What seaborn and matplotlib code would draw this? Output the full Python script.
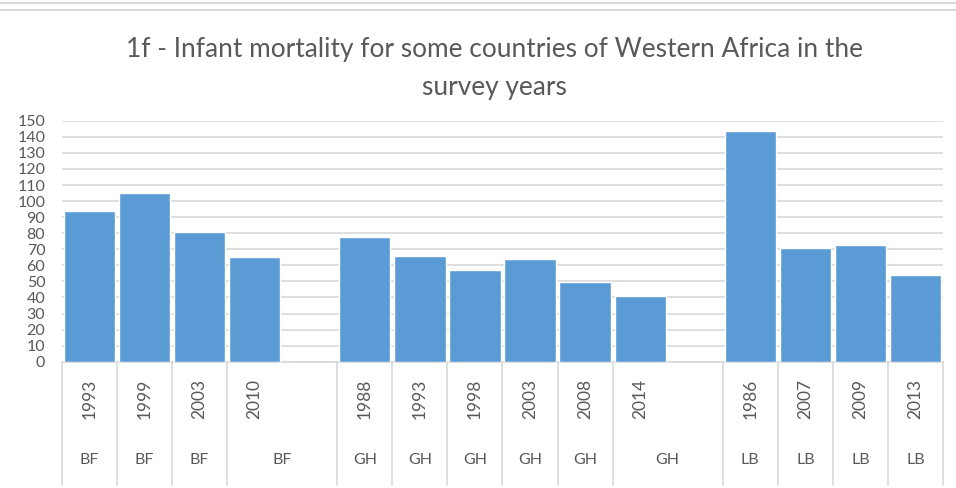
import pandas as pd
import seaborn as sns
import matplotlib.pyplot as plt
from matplotlib.lines import Line2D

# survey rows
countries = ["BF", "BF", "BF", "BF",
             "GH", "GH", "GH", "GH", "GH", "GH",
             "LB", "LB", "LB", "LB"]
years = [1993, 1999, 2003, 2010,
         1988, 1993, 1998, 2003, 2008, 2014,
         1986, 2007, 2009, 2013]
mortality = [94, 105, 81, 65,
             77.5, 66, 57, 64, 49.5, 41,
             143.5, 70.5, 72.5, 54]
yticks = list(range(0, 151, 10))
title_lines = ["1f - Infant mortality for some countries of Western Africa in the",
               "survey years"]

blue = "#5B9BD5"
grey_txt = "#595959"
grey_line = "#D9D9D9"

sns.set_theme(style="white")
plt.rcParams["font.family"] = ["Lato", "DejaVu Sans"]

df = pd.DataFrame({"country": countries, "year": years, "mortality": mortality})
df["slot"] = df["country"] + " " + df["year"].astype(str)

# excel leaves one empty category between countries; its outer label cell
# is empty so the previous country label stretches over it
order, year_lab, segs = [], [], []
prev = None
for c, y, s in zip(df["country"], df["year"], df["slot"]):
    if prev is not None and c != prev:
        order.append("gap " + prev)
        year_lab.append("")
        segs[-1][1] += 1
    order.append(s)
    year_lab.append(str(y))
    segs.append([len(order) - 1, len(order), c])
    prev = c

fig = plt.figure(figsize=(9.56, 4.88), dpi=100)
ax = fig.add_axes([62 / 956, 126.3 / 488, 881 / 956, 240.9 / 488])

sns.barplot(data=df, x="slot", y="mortality", order=order, color=blue,
            width=0.93, saturation=1, errorbar=None, ax=ax, zorder=3)

ax.set_ylim(0, 150)
ax.set_xlim(-0.5, len(order) - 0.5)
ax.set_yticks(yticks)
ax.tick_params(axis="y", length=0, pad=12, labelsize=11.5, labelcolor=grey_txt)
ax.set_xticks([])
ax.set_xlabel("")
ax.set_ylabel("")
ax.grid(axis="y", color=grey_line, linewidth=1.2, zorder=0)
for side in ["left", "right", "top"]:
    ax.spines[side].set_visible(False)
ax.spines["bottom"].set_color(grey_line)
ax.spines["bottom"].set_linewidth(1.2)

# two-level category axis below the bars
tr = ax.get_xaxis_transform()
for i, lab in enumerate(year_lab):
    if lab:
        ax.text(i, -0.155, lab, transform=tr, rotation=90, ha="center", va="center",
                fontsize=12.5, color=grey_txt)
edges = [s[0] for s in segs] + [segs[-1][1]]
for e in edges:
    ax.plot([e - 0.5, e - 0.5], [0, -0.512], transform=tr, color=grey_line,
            linewidth=1.2, clip_on=False)
for a, b, c in segs:
    ax.text((a + b - 1) / 2, -0.408, c, transform=tr, ha="center", va="center",
            fontsize=11.5, color=grey_txt)

for line, yy in zip(title_lines, [50, 87]):
    fig.text(494.5 / 956, 1 - yy / 488, line, ha="center", va="center",
             fontsize=18.9, color=grey_txt)

# frame lines of the screenshot at the top
for yy in [3, 10]:
    fig.add_artist(Line2D([0, 1], [1 - yy / 488] * 2, color=grey_line, linewidth=1.5))

fig.savefig("out.png", dpi=100)
